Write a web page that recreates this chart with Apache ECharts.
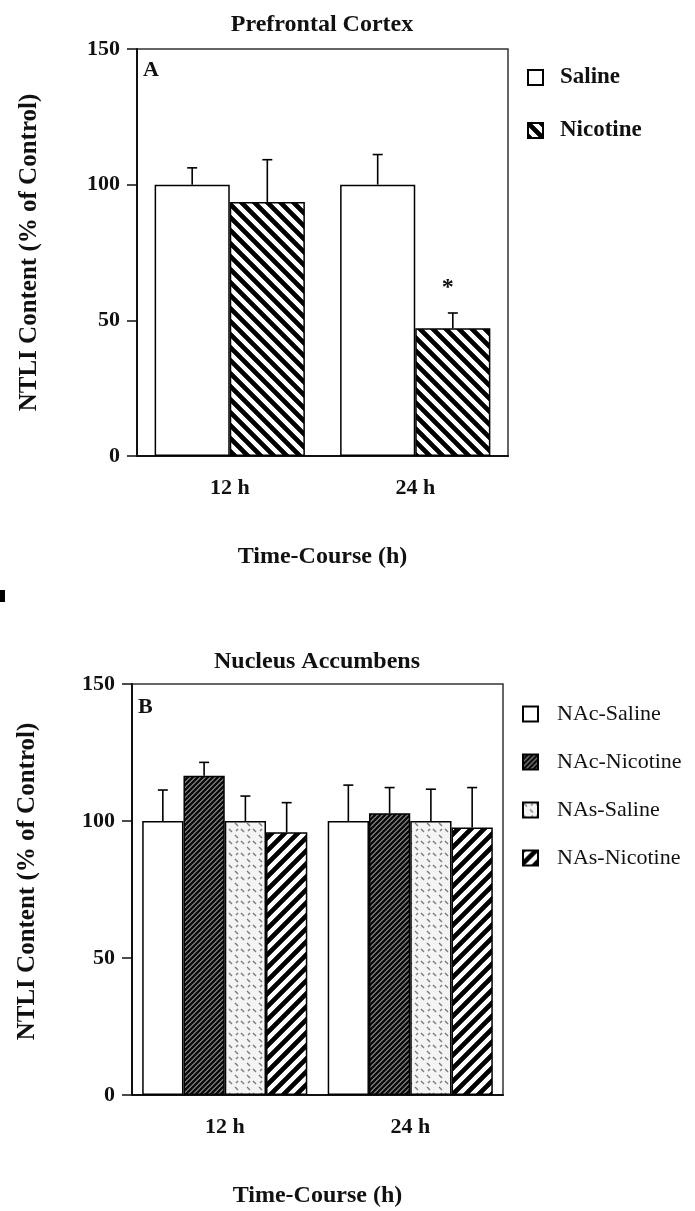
<!DOCTYPE html>
<html>
<head>
<meta charset="utf-8">
<script src="https://cdn.jsdelivr.net/npm/echarts@6/dist/echarts.min.js"></script>
<style>
  html, body { margin: 0; padding: 0; background: #fff; }
  #chart { width: 695px; height: 1211px; }
</style>
</head>
<body>
<div id="chart"></div>
<script>
// categories
var times = ['12 h', '24 h'];
var yTicks = [0, 50, 100, 150];

// panel A - prefrontal cortex
var pfcSaline = [100, 100];
var pfcSalineErr = [106.2, 111.1];
var pfcNicotine = [93.6, 47.1];
var pfcNicotineErr = [109.2, 52.7];

// panel B - nucleus accumbens
var nacSaline = [100, 100];
var nacSalineErr = [111.3, 113.1];
var nacNicotine = [116.5, 102.8];
var nacNicotineErr = [121.4, 112.2];
var nasSaline = [100, 100];
var nasSalineErr = [109.1, 111.6];
var nasNicotine = [95.9, 97.6];
var nasNicotineErr = [106.7, 112.2];

var serif = "'Liberation Serif', 'DejaVu Serif', serif";

// diagonal stripe tile drawn pixel by pixel so it tiles without seams
// dir 1 = "\" , -1 = "/"
function stripes (dir, p, duty, fg, bg) {
  var c = document.createElement('canvas');
  c.width = p; c.height = p;
  var ctx = c.getContext('2d');
  var img = ctx.createImageData(p, p);
  var edge = 0.8 / p;
  for (var y = 0; y < p; y++) {
    for (var x = 0; x < p; x++) {
      var s = dir > 0 ? x - y : x + y + 1;
      var t = (((s % p) + p) % p) / p;
      var d = Math.min(t, 1 - t);
      var a = Math.max(0, Math.min(1, (duty / 2 - d) / edge + 0.5));
      var i = (y * p + x) * 4;
      for (var k = 0; k < 3; k++) img.data[i + k] = Math.round(bg[k] + (fg[k] - bg[k]) * a);
      img.data[i + 3] = 255;
    }
  }
  ctx.putImageData(img, 0, 0);
  return { image: c, repeat: 'repeat' };
}

// small dashes for NAs-Saline
function dashes () {
  var c = document.createElement('canvas');
  c.width = 12; c.height = 12;
  var ctx = c.getContext('2d');
  ctx.fillStyle = '#f4f4f4';
  ctx.fillRect(0, 0, 12, 12);
  ctx.strokeStyle = '#7a7a7a';
  ctx.lineWidth = 1.4;
  ctx.beginPath();
  ctx.moveTo(1, 1); ctx.lineTo(4, 4);
  ctx.moveTo(7, 7); ctx.lineTo(10, 10);
  ctx.moveTo(8, 3); ctx.lineTo(10, 1);
  ctx.stroke();
  return { image: c, repeat: 'repeat' };
}

var thickBack = stripes(1, 13, 0.5, [0, 0, 0], [255, 255, 255]);
var thinFwd = stripes(-1, 5, 0.55, [10, 10, 10], [110, 110, 110]);
var thickFwd = stripes(-1, 13, 0.5, [0, 0, 0], [255, 255, 255]);
var dashFill = dashes();

function errData (errs, vals, idx, n) {
  return errs.map(function (e, i) { return [i, e, vals[i], idx, n]; });
}

function errRender (gap) {
  return function (params, api) {
    var cat = api.value(0);
    var top = api.coord([cat, api.value(1)]);
    var base = api.coord([cat, api.value(2)]);
    var n = api.value(4);
    var band = api.size([1, 0])[0];
    var bw = band * (1 - gap) / n;
    var x = top[0] + (api.value(3) - (n - 1) / 2) * bw;
    var st = { stroke: '#000', lineWidth: 1.6 };
    return {
      type: 'group',
      children: [
        { type: 'line', shape: { x1: x, y1: base[1], x2: x, y2: top[1] }, style: st },
        { type: 'line', shape: { x1: x - 5, y1: top[1], x2: x + 5, y2: top[1] }, style: st }
      ]
    };
  };
}

function xAx (gi) {
  return {
    type: 'category', gridIndex: gi, data: times,
    name: 'Time-Course (h)', nameLocation: 'middle', nameGap: 89,
    nameTextStyle: { fontFamily: serif, fontWeight: 'bold', fontSize: 24, color: '#111' },
    axisLine: { lineStyle: { color: '#111', width: 2 } },
    axisTick: { alignWithLabel: true, length: 10, lineStyle: { color: '#111', width: 1.5 } },
    axisLabel: { fontFamily: serif, fontWeight: 'bold', fontSize: 22, color: '#111', margin: 21 }
  };
}

function yAx (gi, gap, pad) {
  return {
    type: 'value', gridIndex: gi, min: 0, max: 150, interval: 50,
    name: 'NTLI Content (% of Control)', nameLocation: 'middle', nameGap: gap,
    nameTextStyle: { fontFamily: serif, fontWeight: 'bold', fontSize: 25, color: '#111', padding: [0, 0, 0, pad] },
    axisLine: { show: true, lineStyle: { color: '#111', width: 2 } },
    axisTick: { show: true, length: 10, lineStyle: { color: '#111', width: 1.5 } },
    axisLabel: { fontFamily: serif, fontWeight: 'bold', fontSize: 22, color: '#111', margin: 17,
      formatter: function (v) { return yTicks.indexOf(v) > -1 ? v : ''; } },
    splitLine: { show: false }
  };
}

var chart = echarts.init(document.getElementById('chart'));
var option = {
  animation: false,
  backgroundColor: '#fff',
  grid: [
    { left: 137, top: 49, width: 371, height: 407, show: true, borderColor: '#333', borderWidth: 1.5 },
    { left: 132, top: 684, width: 371, height: 411, show: true, borderColor: '#333', borderWidth: 1.5 }
  ],
  xAxis: [xAx(0), xAx(1)],
  yAxis: [yAx(0, 95, 0), yAx(1, 92, 16)],
  legend: [
    {
      data: ['Saline', 'Nicotine'], orient: 'vertical', left: 522, top: 61,
      itemWidth: 15, itemHeight: 15, itemGap: 30, icon: 'rect',
      textStyle: { fontFamily: serif, fontWeight: 'bold', fontSize: 23, color: '#111', padding: [0, 0, 0, 12] }
    },
    {
      data: ['NAc-Saline', 'NAc-Nicotine', 'NAs-Saline', 'NAs-Nicotine'], orient: 'vertical', left: 517, top: 698,
      itemWidth: 15, itemHeight: 15, itemGap: 26, icon: 'rect',
      textStyle: { fontFamily: serif, fontSize: 22, color: '#111', padding: [0, 0, 0, 14] }
    }
  ],
  graphic: [
    { type: 'text', style: { text: 'Prefrontal Cortex', x: 322, y: 25, align: 'center', verticalAlign: 'middle', font: 'bold 24px ' + serif, fill: '#111' } },
    { type: 'text', style: { text: 'Nucleus Accumbens', x: 317, y: 662, align: 'center', verticalAlign: 'middle', font: 'bold 24px ' + serif, fill: '#111' } },
    { type: 'text', style: { text: 'A', x: 143, y: 70, verticalAlign: 'middle', font: 'bold 22px ' + serif, fill: '#111' } },
    { type: 'text', style: { text: 'B', x: 138, y: 707, verticalAlign: 'middle', font: 'bold 22px ' + serif, fill: '#111' } },
    { type: 'rect', shape: { x: 0, y: 590, width: 5, height: 12 }, style: { fill: '#000' } }
  ],
  series: [
    {
      name: 'Saline', type: 'bar', xAxisIndex: 0, yAxisIndex: 0, data: pfcSaline,
      barGap: '0%', barCategoryGap: '19%',
      itemStyle: { color: '#fff', borderColor: '#000', borderWidth: 1.5 }
    },
    {
      name: 'Nicotine', type: 'bar', xAxisIndex: 0, yAxisIndex: 0,
      data: [pfcNicotine[0], { value: pfcNicotine[1], label: { show: true, formatter: '*', position: 'top', distance: 28, offset: [-5, 0], fontFamily: serif, fontWeight: 'bold', fontSize: 24, color: '#111' } }],
      itemStyle: { color: thickBack, borderColor: '#000', borderWidth: 1.5 }
    },
    {
      type: 'custom', xAxisIndex: 0, yAxisIndex: 0, z: 5,
      renderItem: errRender(0.19), encode: { x: 0, y: [1, 2] },
      data: errData(pfcSalineErr, pfcSaline, 0, 2).concat(errData(pfcNicotineErr, pfcNicotine, 1, 2))
    },
    {
      name: 'NAc-Saline', type: 'bar', xAxisIndex: 1, yAxisIndex: 1, data: nacSaline,
      barGap: '0%', barCategoryGap: '11%',
      itemStyle: { color: '#fff', borderColor: '#000', borderWidth: 1.5 }
    },
    {
      name: 'NAc-Nicotine', type: 'bar', xAxisIndex: 1, yAxisIndex: 1, data: nacNicotine,
      itemStyle: { color: thinFwd, borderColor: '#000', borderWidth: 1.5 }
    },
    {
      name: 'NAs-Saline', type: 'bar', xAxisIndex: 1, yAxisIndex: 1, data: nasSaline,
      itemStyle: { color: dashFill, borderColor: '#000', borderWidth: 1.5 }
    },
    {
      name: 'NAs-Nicotine', type: 'bar', xAxisIndex: 1, yAxisIndex: 1, data: nasNicotine,
      itemStyle: { color: thickFwd, borderColor: '#000', borderWidth: 1.5 }
    },
    {
      type: 'custom', xAxisIndex: 1, yAxisIndex: 1, z: 5,
      renderItem: errRender(0.11), encode: { x: 0, y: [1, 2] },
      data: errData(nacSalineErr, nacSaline, 0, 4)
        .concat(errData(nacNicotineErr, nacNicotine, 1, 4))
        .concat(errData(nasSalineErr, nasSaline, 2, 4))
        .concat(errData(nasNicotineErr, nasNicotine, 3, 4))
    }
  ]
};
chart.setOption(option);
</script>
</body>
</html>
